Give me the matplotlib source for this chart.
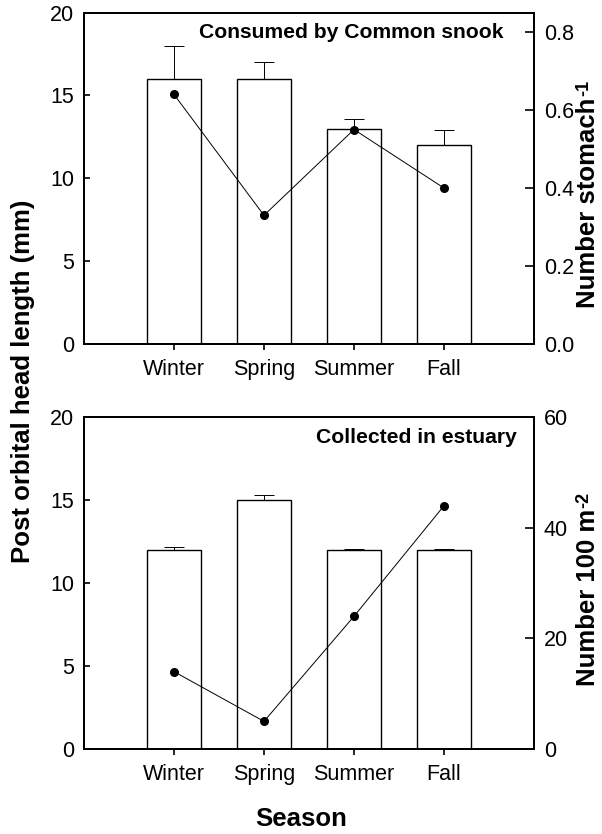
import numpy as np
import matplotlib.pyplot as plt

plt.rcParams['font.family'] = ['Liberation Sans', 'DejaVu Sans']

seasons = ['Winter', 'Spring', 'Summer', 'Fall']

# consumed by common snook
snook_len = [16, 16, 13, 12]
snook_err = [2.0, 1.0, 0.6, 0.9]
snook_num = [0.64, 0.33, 0.55, 0.40]

# collected in estuary
est_len = [12, 15, 12, 12]
est_err = [0.2, 0.3, 0.08, 0.08]
est_num = [14, 5, 24, 44]

fig = plt.figure(figsize=(6.02, 8.34), dpi=100)
ax_top = fig.add_axes([0.1395, 0.5875, 0.7475, 0.3975])
ax_bot = fig.add_axes([0.1395, 0.1019, 0.7475, 0.3977])

x = np.arange(1, len(seasons) + 1)


def panel(ax, lengths, errs, nums, rmax, rticks, rlabels, note, note_x):
    ax.bar(x, lengths, width=0.6, color='white', edgecolor='black', linewidth=1.0, zorder=2)
    ax.errorbar(x, lengths, yerr=[np.zeros(len(errs)), errs], fmt='none',
                ecolor='black', elinewidth=0.7, capsize=7, capthick=0.7, zorder=1)
    ax.set_xlim(0, 5)
    ax.set_ylim(0, 20)
    ax.set_yticks([0, 5, 10, 15, 20])
    ax.set_xticks(x)
    ax.set_xticklabels(seasons)
    ax.tick_params(axis='y', direction='in', length=4.5, width=1.2, pad=7, labelsize=15.5)
    ax.tick_params(axis='x', direction='out', length=4, width=1.2, pad=7, labelsize=15.5)
    for s in ax.spines.values():
        s.set_linewidth(1.4)

    ax2 = ax.twinx()
    ax2.plot(x, nums, color='black', linewidth=0.7, marker='o', markersize=5.5, zorder=3)
    ax2.set_ylim(0, rmax)
    ax2.set_yticks(rticks)
    ax2.set_yticklabels(rlabels)
    ax2.tick_params(axis='y', direction='in', length=6.5, width=1.2, pad=7, labelsize=15.5)
    for s in ax2.spines.values():
        s.set_linewidth(1.4)
    ax.text(note_x, 0.94, note, transform=ax.transAxes, ha='right', va='center',
            fontsize=15.2, fontweight='bold')
    return ax2


panel(ax_top, snook_len, snook_err, snook_num, 0.85, [0.0, 0.2, 0.4, 0.6, 0.8],
      ['0.0', '0.2', '0.4', '0.6', '0.8'], 'Consumed by Common snook', 0.933)
panel(ax_bot, est_len, est_err, est_num, 60, [0, 20, 40, 60],
      ['0', '20', '40', '60'], 'Collected in estuary', 0.962)

fig.text(0.038, 0.543, 'Post orbital head length (mm)', rotation=90, ha='center', va='center',
         fontsize=18.5, fontweight='bold')
fig.text(0.5, 0.018, 'Season', ha='center', va='center', fontsize=18.5, fontweight='bold')

# right labels with a hyphen superscript drawn as its own text
right_labels = [('Number stomach', '-1', 0.757), ('Number 100 m', '-2', 0.284)]
main_texts = []
for main, sup, yc in right_labels:
    t = fig.text(0.977, yc, main, rotation=90, ha='center', va='center',
                 fontsize=18.5, fontweight='bold')
    main_texts.append((t, sup))

fig.canvas.draw()
W, H = fig.bbox.width, fig.bbox.height
for t, sup in main_texts:
    bb = t.get_window_extent()
    fig.text((bb.x0 - 1) / W, (bb.y1 + 1) / H, sup, rotation=90, ha='left', va='bottom',
             fontsize=13, fontweight='bold')

fig.savefig('out.png', dpi=100)
